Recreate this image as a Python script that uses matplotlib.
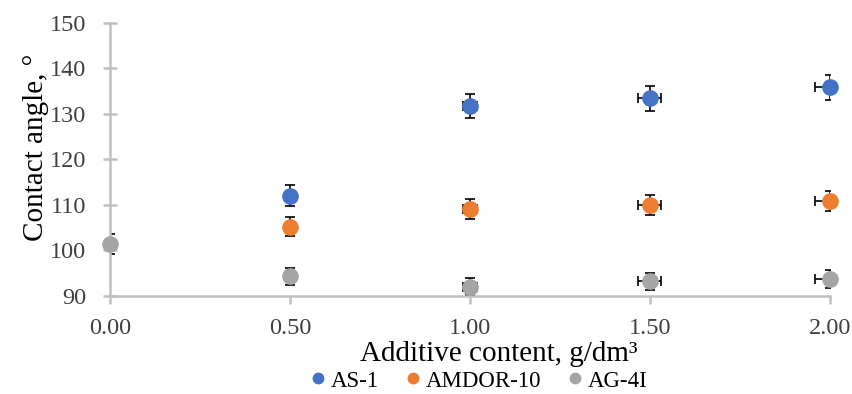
import matplotlib.pyplot as plt
from matplotlib.lines import Line2D

# Data
content = [0.0, 0.5, 1.0, 1.5, 2.0]
as1_x = [0.5, 1.0, 1.5, 2.0]
as1 = [112.0, 131.7, 133.4, 135.8]
as1_yerr = [2.3, 2.7, 2.7, 2.7]
amdor_x = [0.5, 1.0, 1.5, 2.0]
amdor = [105.2, 109.1, 110.0, 110.8]
amdor_yerr = [2.1, 2.2, 2.2, 2.2]
ag_x = [0.0, 0.5, 1.0, 1.5, 2.0]
ag = [101.4, 94.3, 92.0, 93.2, 93.7]
ag_yerr = [2.2, 1.8, 1.9, 1.9, 1.9]
xerr = [0.01, 0.005, 0.02, 0.032, 0.04]

plt.rcParams['font.family'] = ['Liberation Serif', 'DejaVu Serif']

fig = plt.figure(figsize=(8.52, 3.94), dpi=100)
ax = fig.add_axes([0.129, 0.249, 0.845, 0.693])

series = [
    ('AS-1', as1_x, as1, as1_yerr, '#4472c4'),
    ('AMDOR-10', amdor_x, amdor, amdor_yerr, '#ed7d31'),
    ('AG-4I', ag_x, ag, ag_yerr, '#a5a5a5'),
]

for name, xs, ys, ye, color in series:
    xe = xerr[-len(xs):]
    ax.errorbar(xs, ys, yerr=ye, xerr=xe, fmt='none', ecolor='black',
                elinewidth=1.2, capsize=3.5, capthick=1.2, zorder=2)
    ax.plot(xs, ys, 'o', color=color, markersize=11, clip_on=False, zorder=3)

ax.set_xlim(0, 2)
ax.set_ylim(90, 150)
ax.set_xticks(content)
ax.set_xticklabels([f'{v:.2f}' for v in content])
ax.set_yticks(range(90, 151, 10))

for side in ['top', 'right']:
    ax.spines[side].set_visible(False)
for side in ['left', 'bottom']:
    ax.spines[side].set_color('#c0c0c0')
    ax.spines[side].set_linewidth(1.8)

ax.tick_params(axis='y', direction='inout', length=10, width=1.8, color='#c0c0c0',
               labelsize=17.5, labelcolor='#404040', pad=12)
ax.tick_params(axis='x', direction='out', length=6, width=1.8, color='#c0c0c0',
               labelsize=17.5, labelcolor='#404040', pad=10)

ax.set_xlabel('Additive content, g/dm³', fontsize=21)
ax.xaxis.set_label_coords(0.54, -0.165)
ax.set_ylabel('Contact angle, °', fontsize=21)
ax.yaxis.set_label_coords(-0.085, 0.545)

handles = [Line2D([], [], marker='o', linestyle='none', color=c, markersize=7.5)
           for _, _, _, _, c in series]
fig.legend(handles, [s[0] for s in series], loc='center', ncol=3,
           frameon=False, fontsize=16.5, bbox_to_anchor=(0.56, 0.033),
           handletextpad=0.05, columnspacing=1.0, handlelength=1.0,
           borderpad=0, borderaxespad=0)

fig.savefig('out.png', dpi=100)
